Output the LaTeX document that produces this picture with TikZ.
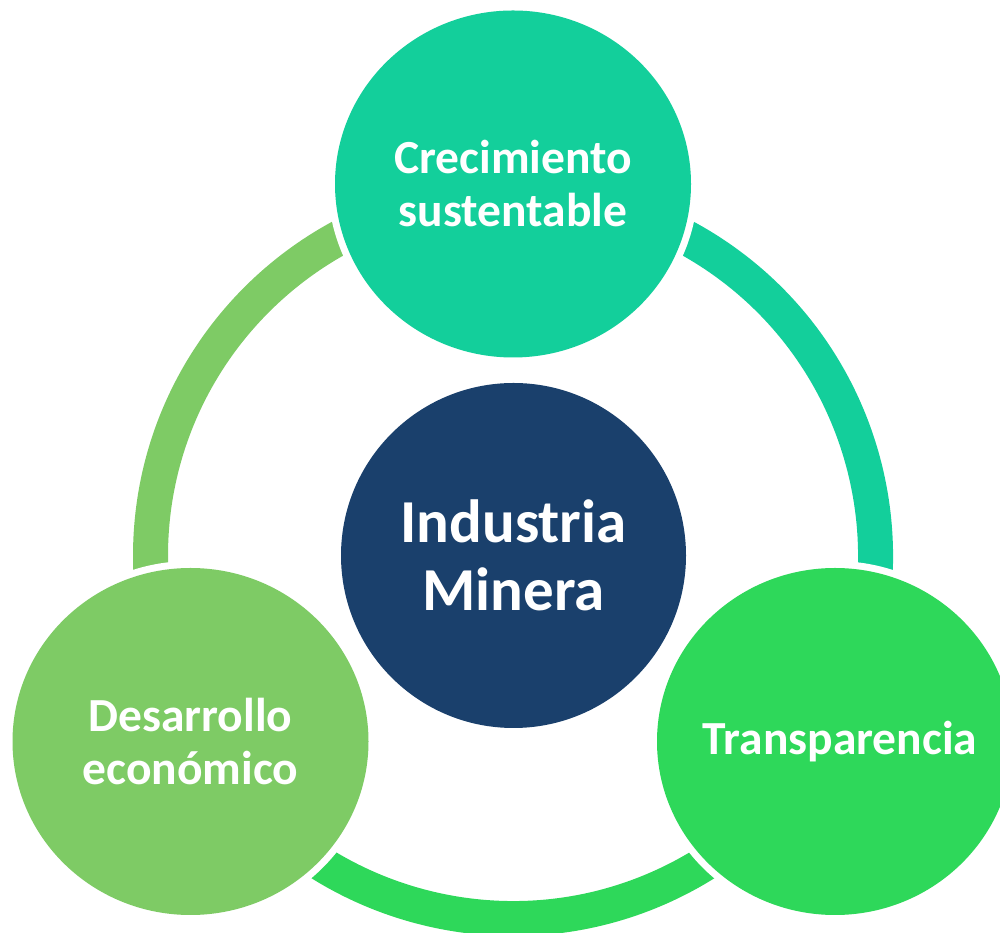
\documentclass[tikz,border=0pt]{standalone}
\usepackage{fontspec}
\setmainfont{Carlito}
\usetikzlibrary{shapes.geometric}
\definecolor{tealc}{RGB}{19,207,155}
\definecolor{lgreen}{RGB}{126,203,101}
\definecolor{bgreen}{RGB}{46,216,90}
\definecolor{navy}{RGB}{26,64,108}
\begin{document}
\begin{tikzpicture}[x=1pt,y=1pt,
  bubble/.style={ellipse, minimum width=356pt, minimum height=347pt, inner sep=0pt,
    text=white, font=\bfseries\fontsize{47.5}{53}\selectfont, align=center,
    preaction={draw=white, line width=14pt}},
  hub/.style={circle, minimum size=345pt, inner sep=0pt, fill=navy, text=white,
    font=\bfseries\fontsize{61}{68}\selectfont, align=center},
  band/.style={line width=35pt}]
\useasboundingbox (0,0) rectangle (1000,933);
\coordinate (ring) at (513,377);
\draw[band, lgreen] ([shift={(90:362.5)}]ring) arc[start angle=90, end angle=210, radius=362.5];
\draw[band, bgreen] ([shift={(210:362.5)}]ring) arc[start angle=210, end angle=330, radius=362.5];
\draw[band, tealc] ([shift={(330:362.5)}]ring) arc[start angle=330, end angle=450, radius=362.5];
\node[hub] (hubn) at (513.5,377.5) {Industria\\Minera};
\node[bubble, fill=tealc] (topn) at (513,749) {Crecimiento\\sustentable};
\node[bubble, fill=lgreen] (leftn) at (190.5,191.5) {Desarrollo\\económico};
\node[bubble, fill=bgreen] (rightn) at (835,191.5) {\makebox[0pt]{\hspace{10pt}Transparencia}};
\end{tikzpicture}
\end{document}
